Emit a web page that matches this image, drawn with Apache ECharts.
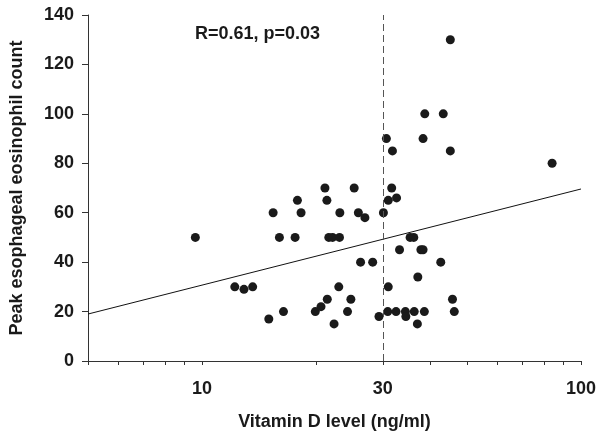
<!DOCTYPE html>
<html>
<head>
<meta charset="utf-8">
<script src="https://cdn.jsdelivr.net/npm/echarts@6/dist/echarts.min.js"></script>
<style>
  html, body { margin: 0; padding: 0; background: #fff; }
  #chart { width: 604px; height: 440px; }
</style>
</head>
<body>
<div id="chart"></div>
<script>
// vitamin D (ng/ml) vs peak eosinophil count
var vitD = [9.6, 12.2, 12.9, 13.6, 15.0, 15.4, 16.0, 16.4, 17.6, 17.85,
    18.25, 19.9, 20.6, 21.1, 21.35, 21.4, 21.6, 22.1, 22.3, 22.95,
    23.05, 23.1, 24.2, 24.7, 25.2, 25.85, 26.2, 26.9, 28.2, 29.3,
    30.1, 30.65, 31.0, 30.9, 31.0, 31.65, 31.8, 32.5, 32.6, 33.2,
    34.4, 34.5, 35.4, 36.2, 36.3, 37.0, 37.1, 37.8, 38.3, 38.3,
    38.6, 38.7, 42.65, 43.3, 45.2, 45.2, 45.8, 46.3, 83.9];
var eos = [50, 30, 29, 30, 17, 60, 50, 20, 50, 65,
    60, 20, 22, 70, 65, 25, 50, 50, 15, 30,
    50, 60, 20, 25, 70, 60, 40, 58, 40, 18,
    60, 90, 30, 20, 65, 70, 85, 20, 66, 45,
    20, 18, 50, 50, 20, 15, 34, 45, 45, 90,
    20, 100, 40, 100, 130, 85, 25, 20, 80];

// fitted line end points (x, y)
var fitX = [5, 100];
var fitY = [19, 69.6];

var cutoff = 30;
var xLabels = [10, 30, 100];
var xTicks = [5, 6, 7, 8, 9, 10, 20, 30, 40, 50, 60, 70, 80, 90, 100];
var statText = "R=0.61, p=0.03";

var points = vitD.map(function (v, i) { return [v, eos[i]]; });
var fit = fitX.map(function (v, i) { return [v, fitY[i]]; });

var font = "Liberation Sans, Arial, sans-serif";
var ink = "#1a1a1a";

var chart = echarts.init(document.getElementById("chart"));
chart.setOption({
    backgroundColor: "#fff",
    animation: false,
    grid: { left: 84, right: 23, top: 15, bottom: 79 },
    xAxis: {
        type: "log",
        logBase: 10,
        min: 5,
        max: 100,
        name: "Vitamin D level (ng/ml)",
        nameLocation: "middle",
        nameGap: 52,
        nameTextStyle: { fontFamily: font, fontWeight: "bold", fontSize: 18, color: ink },
        axisLine: { lineStyle: { color: "#333", width: 1 } },
        axisTick: { show: true, length: 4, customValues: xTicks, lineStyle: { color: "#333" } },
        axisLabel: {
            customValues: xLabels,
            margin: 19,
            fontFamily: font, fontWeight: "bold", fontSize: 18, color: ink
        },
        splitLine: { show: false },
        minorTick: { show: false }
    },
    yAxis: {
        type: "value",
        min: 0,
        max: 140,
        interval: 20,
        name: "Peak esophageal eosinophil count",
        nameLocation: "middle",
        nameGap: 62,
        nameTextStyle: { fontFamily: font, fontWeight: "bold", fontSize: 18, color: ink },
        axisLine: { show: true, lineStyle: { color: "#333", width: 1 } },
        axisTick: { show: true, length: 6, lineStyle: { color: "#333" } },
        axisLabel: { margin: 14, fontFamily: font, fontWeight: "bold", fontSize: 18, color: ink },
        splitLine: { show: false }
    },
    graphic: [{
        type: "text",
        left: 195,
        top: 25,
        style: { text: statText, font: "bold 18px " + font, fill: ink }
    }],
    series: [
        {
            type: "line",
            data: fit,
            symbol: "none",
            lineStyle: { color: "#111", width: 1 },
            silent: true,
            z: 1
        },
        {
            type: "scatter",
            data: points,
            symbolSize: 9,
            itemStyle: { color: "#1a1a1a", opacity: 1 },
            z: 3,
            markLine: {
                silent: true,
                symbol: "none",
                label: { show: false },
                lineStyle: { color: "#555", type: [7, 4], width: 1 },
                data: [{ xAxis: cutoff }]
            }
        }
    ]
});
</script>
</body>
</html>
